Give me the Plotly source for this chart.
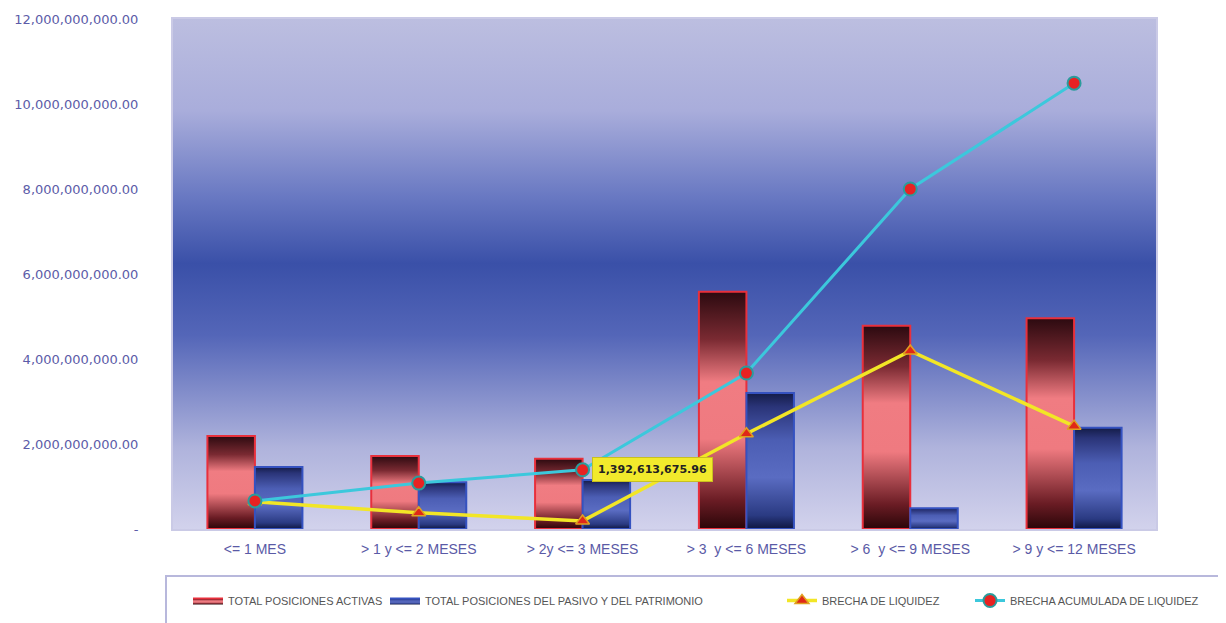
import base64
import plotly.graph_objects as go

categories = ["<= 1 MES", "> 1 y <= 2 MESES", "> 2y <= 3 MESES",
              "> 3  y <= 6 MESES", "> 6  y <= 9 MESES", "> 9 y <= 12 MESES"]
activos = [2.19e9, 1.72e9, 1.65e9, 5.58e9, 4.78e9, 4.96e9]
pasivos = [1.46e9, 1.10e9, 1.15e9, 3.20e9, 0.49e9, 2.38e9]
brecha = [0.64e9, 0.38e9, 0.19e9, 2.24e9, 4.19e9, 2.42e9]
brecha_acum = [0.66e9, 1.08e9, 1392613675.96, 3.67e9, 8.00e9, 10.49e9]
y_ticks = [0, 2e9, 4e9, 6e9, 8e9, 10e9, 12e9]
y_ticktext = ["-"] + [f"{v:,.2f}" for v in y_ticks[1:]]
annot_value = 1392613675.96

names = ["TOTAL POSICIONES ACTIVAS",
         "TOTAL POSICIONES DEL PASIVO Y DEL PATRIMONIO",
         "BRECHA DE LIQUIDEZ",
         "BRECHA ACUMULADA DE LIQUIDEZ"]

# layout geometry (pixels); page body adds ~7px offset
OFF = 7
W, H = 1226, 623
L, T = 172 - OFF, 18 - OFF
PW, PH = 983, 510
R, B = W - L - PW, H - T - PH

def px_x(p):  # screen px -> paper
    return (p - OFF - L) / PW

def px_y(p):
    return (T + PH - (p - OFF)) / PH

BW = 0.29
red_scale = [[0, "#2a0508"], [0.12, "#6a1c24"], [0.38, "#ef7a80"], [0.62, "#f07c82"],
             [0.8, "#7a2a32"], [1, "#2c0a10"]]
blue_scale = [[0, "#0e1640"], [0.1, "#2a3a82"], [0.38, "#5a6cc2"], [0.65, "#4c5eb4"],
              [0.9, "#2a3478"], [1, "#141c48"]]

fig = go.Figure()

def add_bars(values, side, scale, edge, name, legend):
    for i, v in enumerate(values):
        x0 = i - BW if side < 0 else i
        x1 = i if side < 0 else i + BW
        fig.add_trace(go.Scatter(
            x=[x0, x1, x1, x0, x0], y=[0, 0, v, v, 0],
            mode="lines", fill="toself",
            fillgradient=dict(type="vertical", colorscale=scale),
            line=dict(color=edge, width=2),
            name=name, legendgroup=name, showlegend=(i == 0), legend=legend,
            hoverinfo="skip"))

add_bars(activos, -1, red_scale, "#e8303c", names[0], "legend")
add_bars(pasivos, 1, blue_scale, "#3552c0", names[1], "legend2")

xs = list(range(len(categories)))
fig.add_trace(go.Scatter(
    x=xs, y=brecha, mode="lines+markers", name=names[2], legend="legend3",
    line=dict(color="#f2e626", width=3.5),
    marker=dict(symbol="triangle-up", size=12, color="#e02818",
                line=dict(color="#e0a020", width=1.5))))
fig.add_trace(go.Scatter(
    x=xs, y=brecha_acum, mode="lines+markers", name=names[3], legend="legend4",
    line=dict(color="#3cc8dc", width=3),
    marker=dict(symbol="circle", size=13, color="#e82222",
                line=dict(color="#2a9c9c", width=2))))

fig.add_annotation(x=2, y=annot_value, text=f"<b>{annot_value:,.2f}</b>",
                   xanchor="left", yanchor="middle", xshift=9, showarrow=False,
                   bgcolor="#f2ea2c", bordercolor="#c8c020", borderwidth=1, borderpad=5,
                   font=dict(family="DejaVu Sans", size=11, color="#222222"))

svg = ('<svg xmlns="http://www.w3.org/2000/svg" width="100" height="100" preserveAspectRatio="none">'
       '<defs><linearGradient id="g" x1="0" y1="0" x2="0" y2="1">'
       '<stop offset="0" stop-color="#bcbee0"/>'
       '<stop offset="0.18" stop-color="#a9addb"/>'
       '<stop offset="0.35" stop-color="#6878c2"/>'
       '<stop offset="0.48" stop-color="#3a50a8"/>'
       '<stop offset="0.62" stop-color="#5466b8"/>'
       '<stop offset="0.84" stop-color="#afb3dc"/>'
       '<stop offset="1" stop-color="#d2d2ec"/>'
       '</linearGradient></defs><rect width="100" height="100" fill="url(#g)"/></svg>')
src = "data:image/svg+xml;base64," + base64.b64encode(svg.encode()).decode()

leg_font = dict(family="Liberation Sans", size=11, color="#555555")
leg_common = dict(orientation="h", xanchor="left", yanchor="top", y=px_y(585),
                  bgcolor="rgba(0,0,0,0)", borderwidth=0, font=leg_font)

fig.update_layout(
    width=W, height=H,
    margin=dict(l=L, r=R, t=T, b=B, autoexpand=False),
    paper_bgcolor="white", plot_bgcolor="rgba(0,0,0,0)",
    images=[dict(source=src, xref="paper", yref="paper", x=0, y=1, sizex=1, sizey=1,
                 xanchor="left", yanchor="top", sizing="stretch", layer="below")],
    font=dict(family="Liberation Sans", color="#5a5aa6"),
    showlegend=True,
    legend=dict(x=px_x(187), **leg_common),
    legend2=dict(x=px_x(384), **leg_common),
    legend3=dict(x=px_x(781), **leg_common),
    legend4=dict(x=px_x(969), **leg_common),
    shapes=[dict(type="rect", xref="paper", yref="paper",
                 x0=px_x(165), x1=px_x(1240), y0=px_y(575), y1=px_y(640),
                 line=dict(color="#b8b8dc", width=2), fillcolor="rgba(0,0,0,0)",
                 layer="below")],
)
fig.update_xaxes(range=[-0.5, 5.5], tickvals=xs, ticktext=categories, showgrid=False,
                 zeroline=False, showline=True, linecolor="#cacae6", linewidth=2, mirror=True,
                 ticks="", ticklabelstandoff=6, automargin=False,
                 tickfont=dict(family="Liberation Sans", size=14, color="#5a5aa6"))
fig.update_yaxes(range=[0, 12e9], tickvals=y_ticks, ticktext=y_ticktext, showgrid=False,
                 zeroline=False, showline=True, linecolor="#cacae6", linewidth=2, mirror=True,
                 ticks="", ticklabelstandoff=30, automargin=False,
                 tickfont=dict(family="DejaVu Sans", size=13, color="#5c5ca8"))

fig.write_html("out.html")
